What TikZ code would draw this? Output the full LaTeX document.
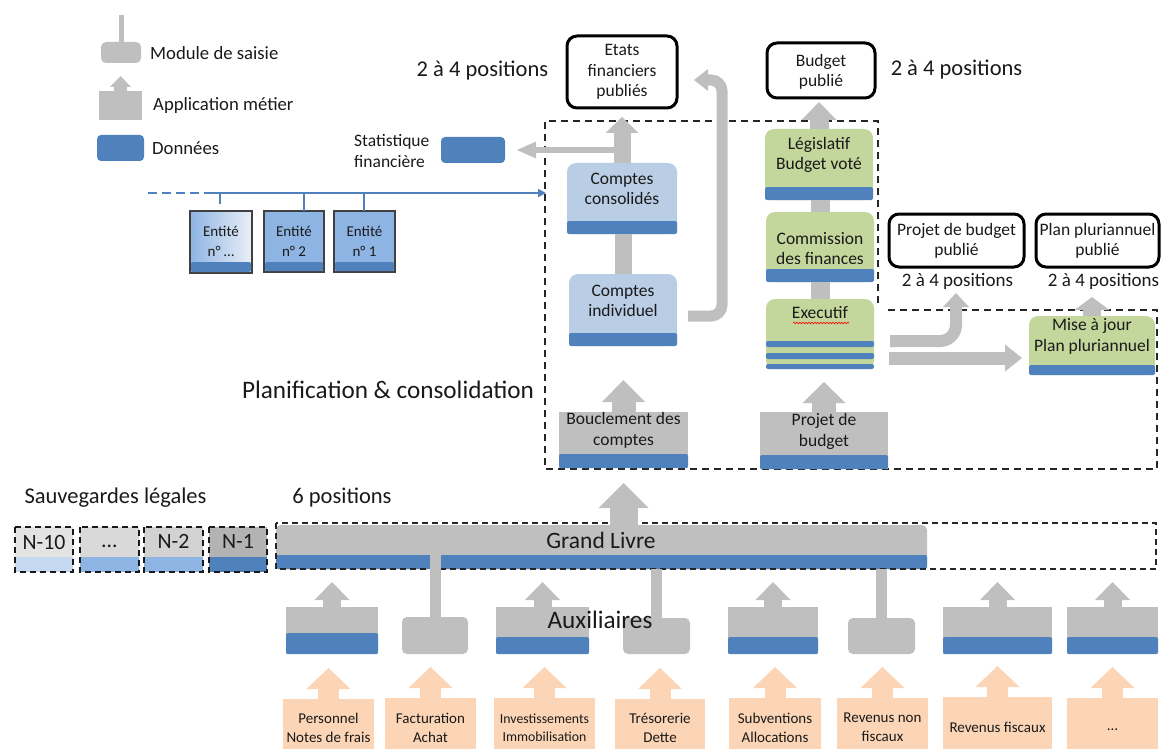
\documentclass[tikz,border=0pt]{standalone}
\usepackage{fontspec}
\setmainfont{Carlito}
\usetikzlibrary{arrows.meta,fit,calc,decorations.pathmorphing}
\definecolor{gbox}{HTML}{BFBFBF}
\definecolor{dblue}{HTML}{4F81BD}
\definecolor{lblue}{HTML}{B9CDE5}
\definecolor{mblue}{HTML}{8EB4E3}
\definecolor{vgreen}{HTML}{C3D69B}
\definecolor{peach}{HTML}{FBD5B5}
\definecolor{txtc}{HTML}{1A1A1A}
\definecolor{ngA}{HTML}{E3E3E3}
\definecolor{ngB}{HTML}{D9D9D9}
\definecolor{ngC}{HTML}{D2D2D2}
\definecolor{ngD}{HTML}{B3B3B3}
\definecolor{nbA}{HTML}{C6D9F1}
\definecolor{nbB}{HTML}{8EB4E3}
\tikzset{
  bx/.style={inner sep=0pt, outer sep=0pt},
  gray box/.style={bx, fill=gbox},
  mod box/.style={bx, fill=gbox, rounded corners=5pt},
  comp box/.style={bx, fill=lblue, rounded corners=9pt},
  green box/.style={bx, fill=vgreen, rounded corners=9pt},
  pub box/.style={bx, draw=black, line width=3pt, rounded corners=10pt, fill=white},
  ent box/.style={bx, draw=black!75, line width=1.3pt, fill=mblue},
  src box/.style={bx, fill=peach},
  databar/.style={fill=dblue, rounded corners=2pt},
  frame/.style={draw=black!85, line width=1.6pt, dash pattern=on 7pt off 5pt},
  nframe/.style={draw=black!90, line width=1.8pt, dash pattern=on 6pt off 4pt},
  tx/.style={inner sep=0pt, text=txtc, align=center},
  blk/.style n args={3}{draw=gbox, line width=#1, -{Triangle[width=#2,length=#3,line width=0pt]}},
  gstem/.style={draw=gbox, line width=#1},
  pblk/.style={draw=peach, line width=21pt, -{Triangle[width=44pt,length=21pt,line width=0pt]}},
  bline/.style={draw=dblue, line width=1.8pt},
  fleg/.style={font=\fontsize{18.7}{22}\selectfont},
  flab/.style={font=\fontsize{22.5}{26}\selectfont},
  fgl/.style={font=\fontsize{23.5}{26}\selectfont},
  fbig/.style={font=\fontsize{25.2}{28}\selectfont},
  fbox/.style={font=\fontsize{17.5}{20.5}\selectfont},
  fsmall/.style={font=\fontsize{19}{22}\selectfont},
  fent/.style={font=\fontsize{15}{20}\selectfont},
  fsrc/.style={font=\fontsize{15}{19}\selectfont},
  fsrcs/.style={font=\fontsize{13.8}{18}\selectfont},
  fn/.style={font=\fontsize{21.8}{24}\selectfont},
}
\begin{document}
\begin{tikzpicture}[x=1pt,y=-1pt]
\useasboundingbox (0,0) rectangle (1162,749);

% ---------- frame of planification
\draw[frame] (878,303) -- (878,121) -- (545,121) -- (545,469) -- (1157,469) -- (1157,310) -- (887,310);

% ---------- legend
\node[mod box, fit={(101,42) (141,63)}] (lmod) {};
\draw[gstem=5pt] (lmod.north) -- ++(0,-27);
\node[tx, fleg, anchor=west] (lmodt) at (150,53) {Module de saisie};
\node[gray box, fit={(99,91) (142,120)}] (lapp) {};
\draw[blk={13pt}{21pt}{11pt}] (lapp.north) -- ++(0,-15);
\node[tx, fleg, anchor=west] (lappt) at (153,106) {Application métier};
\node[bx, fill=dblue, rounded corners=4pt, fit={(97,135) (144,161)}] (ldon) {};
\node[tx, fleg, anchor=west] (ldont) at (152,148) {Données};

% ---------- published outputs
\node[tx, flab] (pos1) at (482.5,71) {2 à 4 positions};
\node[pub box, fit={(567,36) (677,108)}] (etats) {};
\node[tx, fbox] (etatst) at (etats.center) {Etats\\financiers\\publiés};
\node[pub box, fit={(767,43) (875,98)}] (bpub) {};
\node[tx, fbox] (bpubt) at ($(bpub.center)+(0,1.5)$) {Budget\\publié};
\node[tx, flab] (pos2) at (956.5,70) {2 à 4 positions};
\node[pub box, fit={(889,214) (1024,267)}] (ppub) {};
\node[tx, fbox] (ppubt) at (956.5,241) {Projet de budget\\publié};
\node[tx, fsmall] (pos3) at (957.5,281) {2 à 4 positions};
\node[pub box, fit={(1036,214) (1159,267)}] (plpub) {};
\node[tx, fbox] (plpubt) at (1097.5,241) {Plan pluriannuel\\publié};
\node[tx, fsmall] (pos4) at (1103.5,281) {2 à 4 positions};

% ---------- statistique
\node[tx, fbox, align=left, anchor=west] (statt) at (354,151) {Statistique\\financière};
\node[bx, fill=dblue, rounded corners=4pt, fit={(441,137) (505,163)}] (stat) {};

% ---------- entities
\node[ent box, left color=mblue, right color=white!70!lblue, fit={(190,211) (252,273)}] (en3) {};
\fill[databar] ($(en3.south west)+(1,-1)$) rectangle ($(en3.south east)+(-1,-11)$);
\node[tx, fent] (en3t) at (221,241) {Entité\\n° …};
\node[ent box, fit={(264,211) (324,272)}] (en2) {};
\fill[databar] ($(en2.south west)+(1,-1)$) rectangle ($(en2.south east)+(-1,-10)$);
\node[tx, fent] (en2t) at (294,241) {Entité\\n° 2};
\node[ent box, fit={(334,211) (395,272)}] (en1) {};
\fill[databar] ($(en1.south west)+(1,-1)$) rectangle ($(en1.south east)+(-1,-10)$);
\node[tx, fent] (en1t) at (364.5,241) {Entité\\n° 1};
\draw[bline, dash pattern=on 9pt off 5pt] (148,193) -- (211,193);
\draw[bline, -{Triangle[width=8pt,length=8pt]}] (211,193) -- (546,193);
\draw[bline] (220,193) -- (220,204);
\draw[bline] (304,193) -- (304,193 |- en2.north);
\draw[bline] (364,193) -- (364,193 |- en1.north);

% ---------- accounts column
\node[comp box, fit={(567,163) (677,234)}] (cc) {};
\fill[databar] (cc.south west) rectangle ($(cc.south east)+(0,-13)$);
\node[tx, fbox] (cct) at (622,189) {Comptes\\consolidés};
\node[comp box, fit={(569,274) (677,346)}] (ci) {};
\fill[databar] (ci.south west) rectangle ($(ci.south east)+(0,-13)$);
\node[tx, fbox] (cit) at (623,301) {Comptes\\individuel};
\node[gray box, fit={(559,412) (688,468)}] (boucl) {};
\fill[databar] (boucl.south west) rectangle ($(boucl.south east)+(0,-14)$);
\node[tx, fbox] (bouclt) at (623.5,430.5) {Bouclement des\\comptes};

\draw[gstem=17pt] (ci.north) -- (ci.north |- cc.south);
\draw[blk={17pt}{33pt}{16pt}] (cc.north) -- ++(0,-46);
\draw[blk={6pt}{17pt}{19pt}] (cc.north |- 0,150) -- ($(stat.east)+(12,0)$);
\draw[blk={24pt}{43pt}{22pt}] (boucl.north) -- ++(0,-32);
\draw[draw=gbox, line width=11pt, rounded corners=11pt, -{Triangle[width=22pt,length=14pt,line width=0pt]}]
  ($(ci.east)+(11,6)$) -- (722,316) -- (722,80) -- (694,80);

% ---------- budget column
\node[green box, fit={(765,129) (873,200)}] (leg) {};
\fill[databar] (leg.south west) rectangle ($(leg.south east)+(0,-13)$);
\node[tx, fbox] (legt) at (819,155) {Législatif\\Budget voté};
\node[green box, fit={(766,212) (874,282)}] (com) {};
\fill[databar] (com.south west) rectangle ($(com.south east)+(0,-13)$);
\node[tx, fbox] (comt) at (820,248.5) {Commission\\des finances};
\node[green box, fit={(766,299) (874,369)}] (exe) {};
\fill[databar] (766,341) rectangle (874,347);
\fill[databar] (766,353) rectangle (874,359);
\fill[databar] (766,364) rectangle (874,369);
\node[tx, fbox] (exet) at (820,313) {Executif};
\draw[red, line width=0.6pt, decorate, decoration={snake, amplitude=0.8pt, segment length=3pt}] (793,323) -- (849,323);
\node[gray box, fit={(760,412) (888,469)}] (proj) {};
\fill[databar] (proj.south west) rectangle ($(proj.south east)+(0,-14)$);
\node[tx, fbox] (projt) at (824,431.5) {Projet de\\budget};

\draw[gstem=19pt] (exe.north) -- (exe.north |- com.south);
\draw[gstem=19pt] (com.north) -- (com.north |- leg.south);
\draw[blk={19pt}{35pt}{18pt}] (leg.north) -- ++(0,-27);
\draw[blk={24pt}{43pt}{21pt}] (proj.north) -- ++(0,-30);

% ---------- plan pluriannuel
\node[green box, fit={(1029,316) (1155,375)}] (mise) {};
\fill[databar] (mise.south west) rectangle ($(mise.south east)+(0,-10)$);
\node[tx, fbox] (miset) at (1092,336.5) {Mise à jour\\Plan pluriannuel};
\draw[blk={18pt}{35pt}{13pt}] (mise.north) -- ++(0,-19);
\draw[draw=gbox, line width=12pt, rounded corners=16pt, -{Triangle[width=26pt,length=14pt,line width=0pt]}]
  ($(exe.east)+(16,7)$) -- (956,341) -- (956,293);
\draw[blk={13pt}{27pt}{17pt}] ($(exe.east)+(15,24)$) -- ($(mise.west |- 0,358)+(-7,0)$);

\node[tx, fbig] (plan) at (388,390) {Planification \& consolidation};

% ---------- legal backups
\node[tx, flab] (sauv) at (115.5,498) {Sauvegardes légales};
\node[tx, flab] (six) at (342,498) {6 positions};
\node[bx, fill=ngA, fit={(15,527) (73,572)}] (n10) {};
\fill[nbA] (15,557) rectangle (73,572);
\draw[nframe] (n10.north west) rectangle (n10.south east);
\node[tx, fn] (n10t) at (44,542) {N-10};
\node[bx, fill=ngB, fit={(80,527) (139,572)}] (nx) {};
\fill[nbB] (80,557) rectangle (139,572);
\draw[nframe] (nx.north west) rectangle (nx.south east);
\node[tx, fn] (nxt) at (109.5,546) {…};
\node[bx, fill=ngC, fit={(144,527) (203,572)}] (n2) {};
\fill[nbB] (144,557) rectangle (203,572);
\draw[nframe] (n2.north west) rectangle (n2.south east);
\node[tx, fn] (n2t) at (173.5,541) {N-2};
\node[bx, fill=ngD, fit={(209,527) (267,572)}] (n1) {};
\fill[dblue] (209,557) rectangle (267,572);
\draw[nframe] (n1.north west) rectangle (n1.south east);
\node[tx, fn] (n1t) at (238,541) {N-1};

% ---------- grand livre
\node[bx, fill=gbox, rounded corners=5pt, fit={(276,525) (927,569)}] (gl) {};
\fill[databar] (276,555) rectangle (927,569);
\draw[frame, line width=1.3pt, dash pattern=on 6pt off 4pt] (276,523) rectangle (1156,569);
\node[tx, fgl] (glt) at (601,540) {Grand Livre};
\draw[blk={28pt}{50pt}{25pt}] (boucl.south |- gl.north) -- ++(0,-42);

% ---------- auxiliaires
\node[gray box, fit={(286,607) (378,654)}] (a1) {};
\fill[databar] (286,633) rectangle (378,654);
\node[mod box, fit={(402,617) (468,654)}] (m1) {};
\node[gray box, fit={(496,607) (589,654)}] (a2) {};
\fill[databar] (496,637) rectangle (589,654);
\node[mod box, fit={(623,618) (690,654)}] (m2) {};
\node[gray box, fit={(728,607) (818,654)}] (a3) {};
\fill[databar] (728,637) rectangle (818,654);
\node[mod box, fit={(848,618) (915,654)}] (m3) {};
\node[gray box, fit={(943,607) (1052,654)}] (a4) {};
\fill[databar] (943,637) rectangle (1052,654);
\node[gray box, fit={(1067,607) (1158,654)}] (a5) {};
\fill[databar] (1067,637) rectangle (1158,654);
\foreach \a in {a1,a2,a3,a4,a5} {\draw[blk={18pt}{35pt}{18pt}] (\a.north) -- ++(0,-25);}
\draw[gstem=11pt] (m1.north) -- ($(m1.north |- gl.south)+(0,-14)$);
\draw[gstem=11pt] (m2.north) -- (m2.north |- gl.south);
\draw[gstem=11pt] (m3.north) -- (m3.north |- gl.south);
\node[tx, fbig] (aux) at (600,620) {Auxiliaires};

% ---------- sources
\node[src box, fit={(283,699) (374,760)}] (s1) {};
\node[src box, fit={(385,698) (476,760)}] (s2) {};
\node[src box, fit={(494,698) (595,760)}] (s3) {};
\node[src box, fit={(615,699) (705,760)}] (s4) {};
\node[src box, fit={(729,698) (821,760)}] (s5) {};
\node[src box, fit={(837,698) (928,760)}] (s6) {};
\node[src box, fit={(943,697) (1052,760)}] (s7) {};
\node[src box, fit={(1067,698) (1158,760)}] (s8) {};
\foreach \s in {s1,s2,s3,s4,s5,s6,s7,s8} {\draw[pblk] (\s.north) -- ++(0,-31);}
\node[tx, fsrc] (s1t) at (328.5,727.5) {Personnel\\Notes de frais};
\node[tx, fsrc] (s2t) at (430.5,727.5) {Facturation\\Achat};
\node[tx, fsrcs] (s3t) at (544.5,728) {Investissements\\Immobilisation};
\node[tx, fsrc] (s4t) at (660,727.5) {Trésorerie\\Dette};
\node[tx, fsrc] (s5t) at (775,727.5) {Subventions\\Allocations};
\node[tx, fsrc] (s6t) at (882.5,727.5) {Revenus non\\fiscaux};
\node[tx, fsrc] (s7t) at (997.5,727) {Revenus fiscaux};
\node[tx, fsrc] (s8t) at (1112.5,730) {…};
\end{tikzpicture}
\end{document}
